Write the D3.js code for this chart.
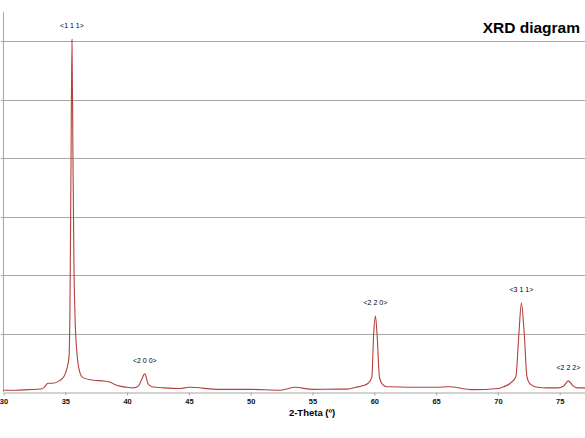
<!DOCTYPE html>
<html>
<head>
<meta charset="utf-8">
<script src="https://cdn.jsdelivr.net/npm/d3@7"></script>
<style>
  body { margin: 0; background: #fff; }
  text { font-family: "Liberation Sans", Arial, sans-serif; }
</style>
</head>
<body>
<script>
var width = 585,
    height = 438;

// 2-theta (deg) and intensity (grid units)
var theta = [30, 31, 32, 33, 33.3, 33.6, 34.0, 34.5, 34.9, 35.1, 35.3, 35.38, 35.45, 35.54, 35.62, 35.7, 35.8, 35.95, 36.1, 36.4,
             37.3, 38.0, 38.6, 39.0, 39.4, 40.0, 40.5, 40.9, 41.15, 41.43, 41.7, 42.0, 43.0, 44.3, 45.0, 47.5, 50.0, 52.4, 53.6, 55.0,
             57.0, 57.8, 58.5, 59.1, 59.5, 59.8, 59.95, 60.09, 60.22, 60.42, 60.6, 61.0, 61.3, 63.0, 65.0, 66.0, 68.0, 70.0, 70.47, 71.0,
             71.45, 71.7, 71.9, 72.13, 72.35, 72.6, 73.2, 74.0, 74.8, 75.3, 75.7, 76.1, 76.45, 77.1];
var intensity = [0.03, 0.03, 0.04, 0.05, 0.08, 0.15, 0.15, 0.19, 0.27, 0.38, 0.6, 1.5, 3.5, 6.03, 4.0, 2.2, 1.2, 0.65, 0.4, 0.25,
                 0.2, 0.19, 0.17, 0.13, 0.10, 0.08, 0.07, 0.1, 0.2, 0.31, 0.14, 0.09, 0.07, 0.06, 0.08, 0.045, 0.045, 0.03, 0.08, 0.045,
                 0.05, 0.05, 0.08, 0.11, 0.15, 0.25, 1.0, 1.30, 1.0, 0.25, 0.15, 0.09, 0.09, 0.08, 0.08, 0.09, 0.04, 0.06, 0.09, 0.15,
                 0.26, 1.0, 1.52, 1.0, 0.26, 0.14, 0.08, 0.07, 0.07, 0.1, 0.19, 0.1, 0.07, 0.07];

var peakLabels = ["<1 1 1>", "<2 0 0>", "<2 2 0>", "<3 1 1>", "<2 2 2>"];
var peakTheta = [35.54, 41.43, 60.09, 71.9, 75.7];
var peakValue = [6.03, 0.31, 1.30, 1.52, 0.19];

var xTicks = [30, 35, 40, 45, 50, 55, 60, 65, 70, 75];
var yGrid = [1, 2, 3, 4, 5, 6];

var svg = d3.select("body")
    .append("svg")
    .attr("width", width)
    .attr("height", height);

var x = d3.scaleLinear()
    .domain([30, 80])
    .range([3.5, 621.5]);

var y = d3.scaleLinear()
    .domain([0, 6.5])
    .range([392, 12]);

// horizontal grid
svg.append("g")
    .selectAll("line")
    .data(yGrid)
    .enter().append("line")
    .attr("x1", 1)
    .attr("x2", width)
    .attr("y1", function (d) { return Math.round(y(d)) + 0.5; })
    .attr("y2", function (d) { return Math.round(y(d)) + 0.5; })
    .style("stroke", "#a6a6a6")
    .style("stroke-width", 1);

// y axis line
svg.append("line")
    .attr("x1", 3.5).attr("x2", 3.5)
    .attr("y1", y(6.5)).attr("y2", y(0))
    .style("stroke", "#a6a6a6");

// x axis
var xAxis = svg.append("g")
    .attr("transform", "translate(0," + (Math.round(y(0)) + 0.5) + ")")
    .call(d3.axisBottom(x).tickValues(xTicks).tickSize(3).tickSizeOuter(0).tickPadding(3));

xAxis.select(".domain").style("stroke", "#a6a6a6");
xAxis.selectAll(".tick line").style("stroke", "#a6a6a6");
xAxis.selectAll(".tick text")
    .style("font-family", "Liberation Sans, Arial, sans-serif")
    .style("font-size", "7.5px")
    .style("font-weight", "bold")
    .style("fill", "#111");

svg.append("text")
    .attr("x", 312)
    .attr("y", 416)
    .attr("text-anchor", "middle")
    .style("font-size", "9.5px")
    .style("font-weight", "bold")
    .style("fill", "#000")
    .text("2-Theta (º)");

// diffraction curve
var line = d3.line()
    .x(function (d, i) { return x(theta[i]); })
    .y(function (d) { return y(d); })
    .curve(d3.curveMonotoneX);

svg.append("path")
    .attr("d", line(intensity))
    .style("fill", "none")
    .style("stroke", "#b5403c")
    .style("stroke-width", 1.1);

// peak labels
svg.append("g")
    .selectAll("text")
    .data(peakLabels)
    .enter().append("text")
    .attr("x", function (d, i) { return x(peakTheta[i]); })
    .attr("y", function (d, i) { return y(peakValue[i]) - 11; })
    .attr("text-anchor", "middle")
    .style("font-size", "7px")
    .style("fill", "#000")
    .text(function (d) { return d; });

svg.append("text")
    .attr("x", 580)
    .attr("y", 33)
    .attr("text-anchor", "end")
    .style("font-size", "15.5px")
    .style("font-weight", "bold")
    .style("fill", "#000")
    .text("XRD diagram");
</script>
</body>
</html>
